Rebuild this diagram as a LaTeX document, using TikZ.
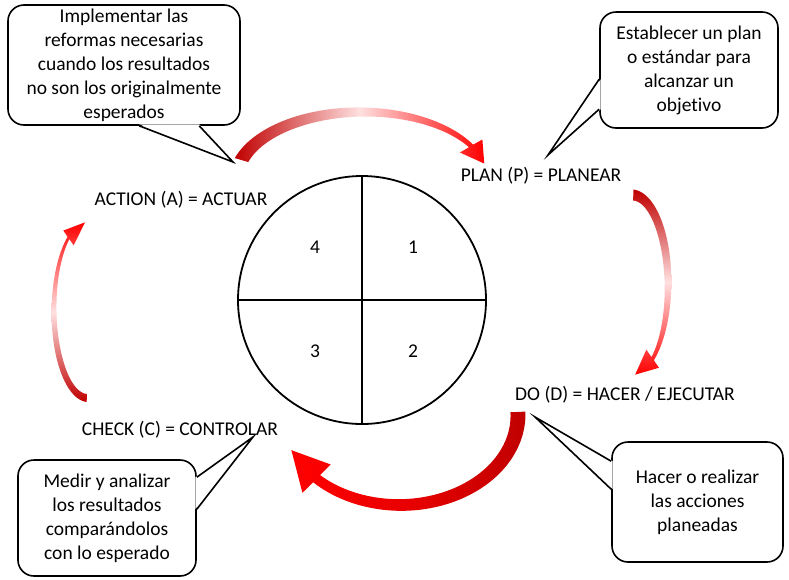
\documentclass[tikz,border=0pt]{standalone}
\usepackage{fontspec}
\setmainfont{Carlito}[Ligatures=NoCommon]
\usetikzlibrary{calc}

\definecolor{darkred}{HTML}{C00000}
\definecolor{brightred}{HTML}{FF0000}
\definecolor{palered}{HTML}{FFE0E0}
\definecolor{midred}{HTML}{E80000}

% geometry of a tapered arrow running along an ellipse:
% centre (#1,#2), radii #3,#4, tail angle #5, head-base angle #6,
% tip angle #7, tail width #8, width at head base #9
\newcommand{\arcgeom}[9]{%
  \def\acx{#1}\def\acy{#2}\def\arx{#3}\def\ary{#4}%
  \def\ata{#5}\def\atb{#6}\def\atc{#7}\def\awa{#8}\def\awb{#9}}
% #1 = shading options, #2 = half width of the head
\newcommand{\crescentarrow}[2]{%
  \def\ahw{#2}%
  \shade[#1]
    plot[domain=0:1,samples=60,variable=\s]
      ({\acx+(\arx+0.5*(\awa+(\awb-\awa)*\s))*cos(\ata+(\atb-\ata)*\s)},
       {\acy-(\ary+0.5*(\awa+(\awb-\awa)*\s))*sin(\ata+(\atb-\ata)*\s)})
    -- ({\acx+(\arx+\ahw)*cos(\atb)},{\acy-(\ary+\ahw)*sin(\atb)})
    -- ({\acx+\arx*cos(\atc)},{\acy-\ary*sin(\atc)})
    -- ({\acx+(\arx-\ahw)*cos(\atb)},{\acy-(\ary-\ahw)*sin(\atb)})
    -- plot[domain=0:1,samples=60,variable=\s]
      ({\acx+(\arx-0.5*(\awb+(\awa-\awb)*\s))*cos(\atb+(\ata-\atb)*\s)},
       {\acy-(\ary-0.5*(\awb+(\awa-\awb)*\s))*sin(\atb+(\ata-\atb)*\s)})
    -- cycle;}

\tikzset{
  note/.style={draw=black, line width=1.6pt, fill=white, rounded corners=16pt,
    align=center, inner sep=0pt, font=\fontsize{19.5}{24}\selectfont},
  phase/.style={font=\fontsize{19.5}{23}\selectfont, inner sep=1pt},
  quad/.style={font=\fontsize{19.5}{23}\selectfont, inner sep=1pt},
  wedge/.style={line width=1.6pt, line join=miter},
  wheelline/.style={line width=1.8pt}
}

\begin{document}
\begin{tikzpicture}[x=1pt,y=-1pt]
\useasboundingbox (0,0) rectangle (789,579);
\fill[white] (0,0) rectangle (789,579);

% central wheel with its four quadrants
\node[circle, draw, wheelline, minimum size=248pt, inner sep=0pt] (wheel) at (362,300) {};
\draw[wheelline] (wheel.north) -- (wheel.south);
\draw[wheelline] (wheel.west) -- (wheel.east);
\node[quad] (q4) at (315,247) {4};
\node[quad] (q1) at (413,247) {1};
\node[quad] (q3) at (315,351) {3};
\node[quad] (q2) at (413,351) {2};

% phase names
\node[phase] (act) at (181,200) {ACTION (A) = ACTUAR};
\node[phase] (plan) at (541,176) {PLAN (P) = PLANEAR};
\node[phase] (do) at (625,395) {DO (D) = HACER / EJECUTAR};
\node[phase] (check) at (180,430) {CHECK (C) = CONTROLAR};

% curved arrows of the cycle
\arcgeom{362}{180}{126}{68}{163}{30}{14}{14}{5}
\crescentarrow{left color=darkred, right color=brightred, middle color=palered}{13}
\arcgeom{632}{285}{36}{90}{88}{-55}{-85}{11}{4}
\crescentarrow{top color=darkred, bottom color=brightred, middle color=palered}{11}
\arcgeom{400}{415}{118}{90}{2}{-135}{-157}{15}{10}
\crescentarrow{right color=darkred, left color=brightred, middle color=midred}{20}
\arcgeom{88}{310}{34}{88}{268}{125}{95}{8}{3}
\crescentarrow{bottom color=darkred, top color=brightred, middle color=palered}{9}

% callouts
\node[note, minimum width=232pt, minimum height=120pt] (nA) at (124,65)
  {Implementar las\\reformas necesarias\\cuando los resultados\\no son los originalmente\\esperados};
\node[note, minimum width=178pt, minimum height=116pt] (nP) at (689,70)
  {Establecer un plan\\o estándar para\\alcanzar un\\objetivo};
\node[note, minimum width=171pt, minimum height=120pt] (nD) at (697.5,502)
  {Hacer o realizar\\las acciones\\planeadas};
\node[note, minimum width=178pt, minimum height=116pt] (nC) at (107,518)
  {Medir y analizar\\los resultados\\comparándolos\\con lo esperado};

\coordinate (tA) at (233,162);
\coordinate (tP) at (548,155);
\coordinate (tD) at (535,417);
\coordinate (tC) at (253,437);

% callout pointers
\fill[white] ($(nA.south west)+(132,-1.5)$) -- (tA) -- ($(nA.south west)+(192,-1.5)$) -- cycle;
\draw[wedge] ($(nA.south west)+(132,0)$) -- (tA) -- ($(nA.south west)+(192,0)$);

\fill[white] ($(nP.north west)+(1.5,68)$) -- (tP) -- ($(nP.north west)+(1.5,98)$) -- cycle;
\draw[wedge] ($(nP.north west)+(0,68)$) -- (tP) -- ($(nP.north west)+(0,98)$);

\fill[white] ($(nD.north west)+(1.5,20)$) -- (tD) -- ($(nD.north west)+(1.5,48)$) -- cycle;
\draw[wedge] ($(nD.north west)+(0,20)$) -- (tD) -- ($(nD.north west)+(0,48)$);

\fill[white] ($(nC.north east)+(-1.5,18)$) -- (tC) -- ($(nC.north east)+(-1.5,50)$) -- cycle;
\draw[wedge] ($(nC.north east)+(0,18)$) -- (tC) -- ($(nC.north east)+(0,50)$);
\end{tikzpicture}
\end{document}
